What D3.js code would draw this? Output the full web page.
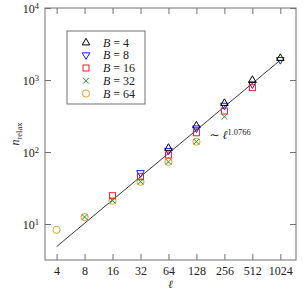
<!DOCTYPE html>
<html>
<head>
<meta charset="utf-8">
<script src="https://cdn.jsdelivr.net/npm/d3@7"></script>
<style>
  body { margin: 0; background: #fff; }
  text { font-family: "Liberation Serif", "DejaVu Serif", serif; fill: #222; }
</style>
</head>
<body>
<div id="chart"></div>
<script>
// data
var xTicks = [4, 8, 16, 32, 64, 128, 256, 512, 1024];
var yTicks = [10, 100, 1000, 10000];
var yTickExp = ["1", "2", "3", "4"];

var bNames = ["4", "8", "16", "32", "64"];
var lB4 = [64, 128, 256, 512, 1024];
var nB4 = [114, 233, 479, 1000, 2020];
var lB8 = [32, 64, 128, 256, 512, 1024];
var nB8 = [51, 104, 213, 440, 871, 1900];
var lB16 = [16, 32, 64, 128, 256, 512];
var nB16 = [24.7, 45.4, 91, 185, 371, 782];
var lB32 = [8, 16, 32, 64, 128, 256];
var nB32 = [12.5, 21.1, 38.7, 73, 139, 309];
var lB64 = [4, 8, 16, 32, 64, 128];
var nB64 = [8.3, 12.5, 21, 38.5, 73, 139];

// fit line ends, ~ l^1.0766
var fitL = [4, 1024];
var fitN = [4.85, 1890];

var colors = ["#000000", "#1a1aff", "#e8202a", "#1f9a1f", "#e0a030"];
var shapes = ["triUp", "triDown", "square", "cross", "circle"];

var margin = {top: 8, right: 12, bottom: 42, left: 45},
    width = 308 - margin.left - margin.right,
    height = 302 - margin.top - margin.bottom;

var svg = d3.select("#chart")
  .append("svg")
    .attr("width", 308)
    .attr("height", 302)
  .append("g")
    .attr("transform", "translate(" + margin.left + "," + margin.top + ")");

var x = d3.scaleLog().base(2)
  .domain([3, 1510])
  .range([0, width]);
var y = d3.scaleLog()
  .domain([Math.pow(10, 0.5), 10000])
  .range([height, 0]);

var axisColor = "#707070";

// bottom axis
var gx = svg.append("g")
  .attr("transform", "translate(0," + height + ")")
  .call(d3.axisBottom(x).tickValues(xTicks).tickFormat(d3.format("d"))
    .tickSizeInner(-6).tickSizeOuter(0).tickPadding(6));
gx.selectAll("text").style("font-size", "12px").attr("fill", "#222");

// top axis (ticks only)
svg.append("g")
  .call(d3.axisTop(x).tickValues(xTicks).tickFormat("")
    .tickSizeInner(-6).tickSizeOuter(0));

// left axis
var gy = svg.append("g")
  .call(d3.axisLeft(y).tickValues(yTicks).tickFormat("")
    .tickSizeInner(-6).tickSizeOuter(0).tickPadding(6));
gy.selectAll(".tick text").each(function(d, i) {
  var t = d3.select(this)
    .attr("x", -6)
    .attr("dy", "0.35em")
    .attr("text-anchor", "end")
    .attr("fill", "#222")
    .style("font-size", "12px");
  t.append("tspan").text("10");
  t.append("tspan").attr("dy", "-0.45em").style("font-size", "8.5px").text(yTickExp[i]);
});

// right axis (ticks only)
svg.append("g")
  .attr("transform", "translate(" + width + ",0)")
  .call(d3.axisRight(y).tickValues(yTicks).tickFormat("")
    .tickSizeInner(-6).tickSizeOuter(0));

svg.selectAll(".domain").remove();
svg.selectAll(".tick line").attr("stroke", axisColor);

svg.append("rect")
  .attr("width", width)
  .attr("height", height)
  .attr("fill", "none")
  .attr("stroke", axisColor)
  .attr("stroke-width", 1);

// axis labels
svg.append("text")
  .attr("x", width / 2)
  .attr("y", height + 28)
  .attr("text-anchor", "middle")
  .style("font-size", "11px")
  .style("font-style", "italic")
  .text("ℓ");

var yl = svg.append("text")
  .attr("transform", "translate(" + (19 - margin.left) + "," + (height / 2) + ") rotate(-90)")
  .attr("text-anchor", "middle")
  .style("font-size", "12px");
yl.append("tspan").style("font-style", "italic").text("n");
yl.append("tspan").attr("dy", "0.3em").style("font-size", "8.5px").text("relax");

// fit line
svg.append("path")
  .datum(fitL)
  .attr("fill", "none")
  .attr("stroke", "#222")
  .attr("stroke-width", 0.9)
  .attr("d", d3.line()
    .x(function(d) { return x(d) })
    .y(function(d, i) { return y(fitN[i]) }));

var ann = svg.append("text")
  .attr("x", x(128) + 13)
  .attr("y", 139 - margin.top)
  .style("font-size", "12px");
ann.append("tspan").text("∼ ");
ann.append("tspan").style("font-style", "italic").text("ℓ");
ann.append("tspan").attr("dy", "-0.45em").style("font-size", "8.5px").text("1.0766");

// markers
function marker(g, shape, color) {
  if (shape == "triUp") {
    g.append("path").attr("d", "M0,-4.2L3.8,2.4L-3.8,2.4Z");
  } else if (shape == "triDown") {
    g.append("path").attr("d", "M0,4.2L3.8,-2.4L-3.8,-2.4Z");
  } else if (shape == "square") {
    g.append("rect").attr("x", -3).attr("y", -3).attr("width", 6).attr("height", 6);
  } else if (shape == "cross") {
    g.append("path").attr("d", "M-2.8,-2.8L2.8,2.8M-2.8,2.8L2.8,-2.8");
  } else {
    g.append("circle").attr("r", 3.6);
  }
  g.selectAll("*")
    .attr("fill", "none")
    .attr("stroke", color)
    .attr("stroke-width", 1);
}

var seriesL = [lB4, lB8, lB16, lB32, lB64];
var seriesN = [nB4, nB8, nB16, nB32, nB64];

// draw from B=64 up so B=4 sits on top
for (var s = 4; s >= 0; s--) {
  seriesL[s].forEach(function(l, i) {
    var g = svg.append("g")
      .attr("transform", "translate(" + x(l) + "," + y(seriesN[s][i]) + ")");
    marker(g, shapes[s], colors[s]);
  });
}

// legend
var lg = svg.append("g").attr("transform", "translate(" + (67 - margin.left) + "," + (31 - margin.top) + ")");
lg.append("rect")
  .attr("width", 78)
  .attr("height", 73)
  .attr("fill", "#fff")
  .attr("stroke", axisColor)
  .attr("stroke-width", 1);
bNames.forEach(function(b, i) {
  var cy = 11.5 + i * 12.75;
  var g = lg.append("g").attr("transform", "translate(19," + cy + ")");
  marker(g, shapes[i], colors[i]);
  var t = lg.append("text")
    .attr("x", 36)
    .attr("y", cy)
    .attr("dy", "0.35em")
    .style("font-size", "12px");
  t.append("tspan").style("font-style", "italic").text("B");
  t.append("tspan").text(" = " + b);
});
</script>
</body>
</html>
